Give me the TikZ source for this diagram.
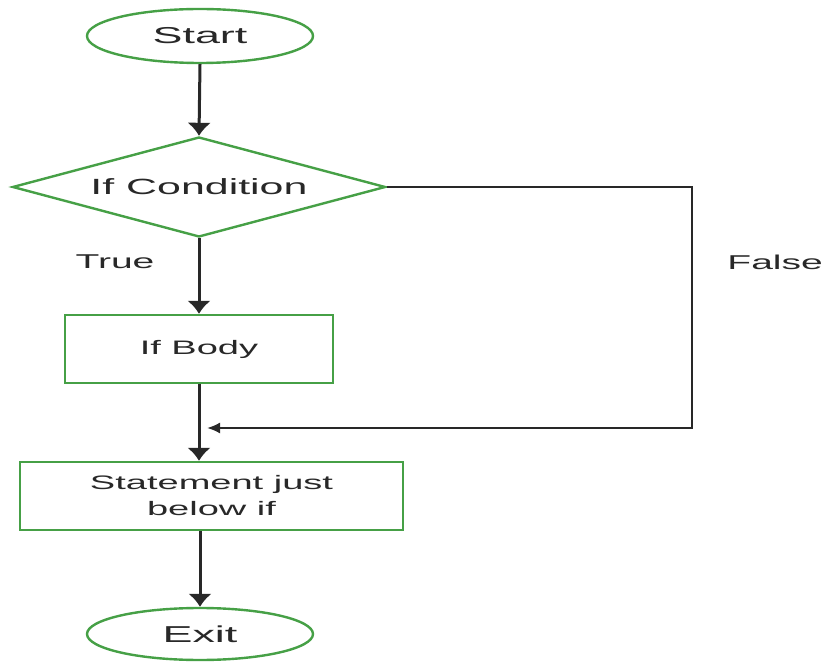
\documentclass[tikz,border=0pt]{standalone}
\usepackage{fontspec}
\setmainfont{Liberation Sans}[FakeStretch=1.95]
\usetikzlibrary{shapes.geometric,arrows.meta}
\definecolor{boxgreen}{RGB}{70,160,70}
\definecolor{ink}{RGB}{40,40,40}
\definecolor{txt}{RGB}{40,40,40}
\tikzset{
  terminal/.style={ellipse, draw=boxgreen, line width=2.4pt, fill=white, text=txt,
    minimum width=226pt, minimum height=54pt, inner sep=0pt,
    font=\fontsize{23}{27}\selectfont},
  decision/.style={diamond, draw=boxgreen, line width=2.4pt, fill=white, text=txt,
    minimum width=373pt, minimum height=100pt, inner sep=0pt, aspect=3.7,
    font=\fontsize{22}{26}\selectfont},
  process/.style={rectangle, draw=boxgreen, line width=2.4pt, fill=white, text=txt,
    minimum height=68pt, inner sep=0pt, align=center,
    font=\fontsize{19.5}{26}\selectfont},
  label/.style={text=txt, inner sep=0pt, font=\fontsize{20}{24}\selectfont},
  flow/.style={draw=ink, line width=3pt, -{Latex[length=13pt,width=24pt]}},
  back/.style={draw=ink, line width=2pt, -{Latex[length=13pt,width=11pt]}},
}
\begin{document}
\begin{tikzpicture}[x=1pt,y=-1pt]
  \useasboundingbox (0,0) rectangle (825,663);
  \fill[white] (0,0) rectangle (825,663);

  % blocks of the flow
  \node[terminal] (start) at (200,36) {Start};
  \node[decision] (cond) at (199,187) {If Condition};
  \node[process, minimum width=268pt] (body) at (199,349) {If Body};
  \node[process, minimum width=383pt] (stmt) at (211.5,496) {Statement just\\below if};
  \node[terminal, minimum height=52pt] (exit) at (200,634) {Exit};

  % branch labels
  \node[label] (true) at (115,262) {True};
  \node[label, anchor=east] (false) at (823,262) {False};

  % main flow
  \draw[flow] (start.south) -- (cond.north);
  \draw[flow] (cond.south) -- (body.north);
  \draw[flow] (body.south) -- (body.south |- stmt.north);
  \draw[flow] (stmt.south -| exit.north) -- (exit.north);

  % false branch rejoining below the body
  \coordinate (corner) at (692,428);
  \coordinate (join) at ([xshift=8pt]body.south |- corner);
  \draw[back] (cond.east) -| (corner) -- (join);
\end{tikzpicture}
\end{document}
